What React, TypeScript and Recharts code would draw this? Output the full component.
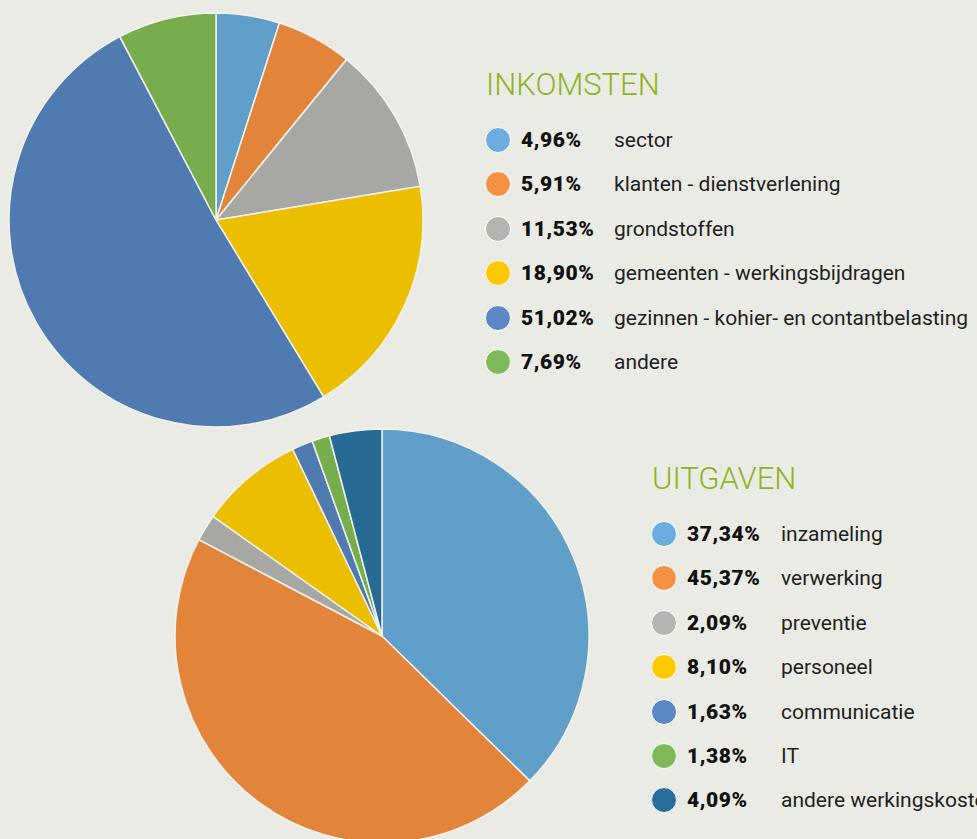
import { PieChart, Pie, Cell } from 'recharts'

const incomeLabels = ['sector', 'klanten - dienstverlening', 'grondstoffen', 'gemeenten - werkingsbijdragen', 'gezinnen - kohier- en contantbelasting', 'andere']
const incomeValues = [4.96, 5.91, 11.53, 18.9, 51.02, 7.69]
const incomeSlice = ['#5f9fca', '#e2853a', '#a7a7a3', '#ecbe00', '#4f7bb1', '#78ad4d']
const incomeDots = ['#6badde', '#f29141', '#b3b3b1', '#fdc800', '#5b87c6', '#80b95a']

const expenseLabels = ['inzameling', 'verwerking', 'preventie', 'personeel', 'communicatie', 'IT', 'andere werkingskosten']
const expenseValues = [37.34, 45.37, 2.09, 8.1, 1.63, 1.38, 4.09]
const expenseSlice = ['#5f9fca', '#e2853a', '#a7a7a3', '#ecbe00', '#4f7bb1', '#78ad4d', '#276a93']
const expenseDots = ['#6badde', '#f29141', '#b3b3b1', '#fdc800', '#5b87c6', '#80b95a', '#2a6d9c']

const incomeData = incomeLabels.map((name, i) => ({ name, value: incomeValues[i] }))
const expenseData = expenseLabels.map((name, i) => ({ name, value: expenseValues[i] }))

const fmt = (v: number) => v.toFixed(2).replace('.', ',') + '%'

type LegendProps = {
  title: string
  labels: string[]
  values: number[]
  dots: string[]
  left: number
  titleTop: number
  firstRow: number
  labelX: number
}

function Legend({ title, labels, values, dots, left, titleTop, firstRow, labelX }: LegendProps) {
  return (
    <>
      <div
        style={{
          position: 'absolute',
          left: left,
          top: titleTop,
          fontSize: 31,
          fontWeight: 300,
          color: '#8db520',
          lineHeight: '31px',
        }}
      >
        {title}
      </div>
      {labels.map((label, i) => (
        <div
          key={label}
          style={{
            position: 'absolute',
            left: left - 1,
            top: firstRow + i * 44.4 - 13,
            height: 26,
            display: 'flex',
            alignItems: 'center',
            fontSize: 21,
            lineHeight: '26px',
            whiteSpace: 'nowrap',
          }}
        >
          <div
            style={{
              width: 24,
              height: 24,
              borderRadius: '50%',
              background: dots[i],
              border: '1px solid #ffffff',
              flexShrink: 0,
            }}
          />
          <span style={{ marginLeft: 10, fontWeight: 900, color: '#111', letterSpacing: 0.6, width: labelX - left - 35 }}>
            {fmt(values[i])}
          </span>
          <span style={{ color: '#222', fontWeight: 400 }}>{label}</span>
        </div>
      ))}
    </>
  )
}

export default function App() {
  return (
    <div
      style={{
        position: 'absolute',
        left: 0,
        top: 0,
        width: 977,
        height: 839,
        overflow: 'hidden',
        background: '#ebebe6',
        fontFamily: 'Roboto, sans-serif',
      }}
    >
      <PieChart width={977} height={839} margin={{ top: 0, right: 0, bottom: 0, left: 0 }}>
        <Pie
          data={incomeData}
          dataKey="value"
          cx={216}
          cy={220}
          outerRadius={207}
          startAngle={90}
          endAngle={-270}
          stroke="#f2f2ee"
          strokeWidth={1.5}
          isAnimationActive={false}
        >
          {incomeData.map((d, i) => (
            <Cell key={d.name} fill={incomeSlice[i]} />
          ))}
        </Pie>
        <Pie
          data={expenseData}
          dataKey="value"
          cx={382}
          cy={636}
          outerRadius={207}
          startAngle={90}
          endAngle={-270}
          stroke="#f2f2ee"
          strokeWidth={1.5}
          isAnimationActive={false}
        >
          {expenseData.map((d, i) => (
            <Cell key={d.name} fill={expenseSlice[i]} />
          ))}
        </Pie>
      </PieChart>
      <Legend
        title="INKOMSTEN"
        labels={incomeLabels}
        values={incomeValues}
        dots={incomeDots}
        left={486}
        titleTop={69}
        firstRow={140}
        labelX={614}
      />
      <Legend
        title="UITGAVEN"
        labels={expenseLabels}
        values={expenseValues}
        dots={expenseDots}
        left={652}
        titleTop={463}
        firstRow={534}
        labelX={781}
      />
    </div>
  )
}
